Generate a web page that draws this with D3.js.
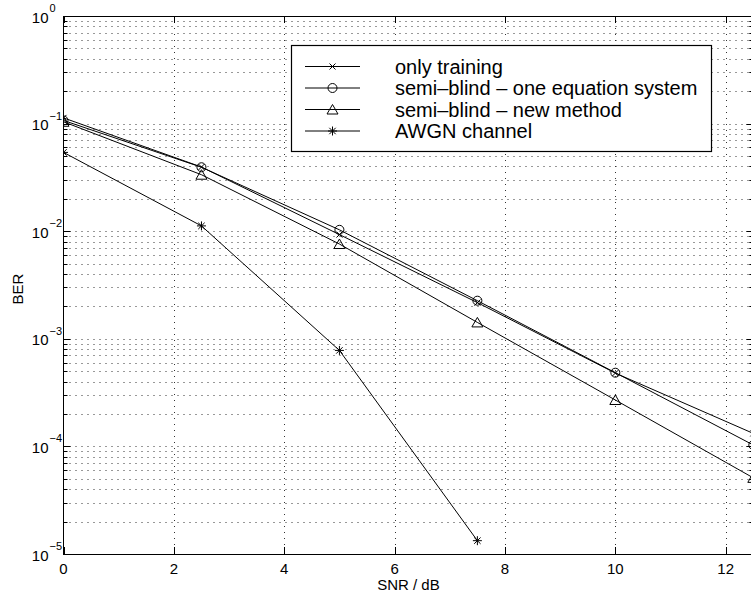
<!DOCTYPE html>
<html>
<head>
<meta charset="utf-8">
<script src="https://cdn.jsdelivr.net/npm/d3@7"></script>
<style>
    body { margin: 0; background: #fff; }
    svg { display: block; font-family: "Liberation Sans", Arial, Helvetica, sans-serif; }
</style>
</head>
<body>
<div id="chart"></div>
<script>

// values
var snr = [0, 2.5, 5, 7.5, 10, 12.5];
var snrAwgn = [0, 2.5, 5, 7.5];
var onlyTraining = [0.113, 0.0395, 0.0093, 0.00217, 0.00048, 0.000132];
var semiBlindOne = [0.107, 0.0393, 0.0103, 0.00226, 0.000484, 0.000103];
var semiBlindNew = [0.104, 0.0335, 0.0076, 0.00142, 0.00027, 0.000051];
var awgnChannel = [0.054, 0.0112, 0.00078, 0.0000133];

var xTicks = [0, 2, 4, 6, 8, 10, 12];
var yTickExps = [0, -1, -2, -3, -4, -5];

var series = [
    {name: 'only training', x: snr, y: onlyTraining, marker: 'cross'},
    {name: 'semi\u2013blind \u2013 one equation system', x: snr, y: semiBlindOne, marker: 'circle'},
    {name: 'semi\u2013blind \u2013 new method', x: snr, y: semiBlindNew, marker: 'triangle'},
    {name: 'AWGN channel', x: snrAwgn, y: awgnChannel, marker: 'star'}
];

var width = 751, height = 595;
// plot box (the right edge lies just past the window, as in the reference)
var boxLeft = 63.5, boxRight = 753.3, boxTop = 16, boxBottom = 554;

var svg = d3.select('#chart').append('svg').attr('width', width).attr('height', height);

var x = d3.scaleLinear().domain([0, 12.5]).range([boxLeft, boxRight]);
var y = d3.scaleLog().domain([1e-5, 1]).range([boxBottom, boxTop]);

svg.append('clipPath').attr('id', 'plotclip')
    .append('rect').attr('x', boxLeft).attr('y', boxTop).attr('width', boxRight - boxLeft).attr('height', boxBottom - boxTop);

// dotted grid
var grid = svg.append('g').attr('stroke', '#333').attr('stroke-width', 1).attr('stroke-dasharray', '1,5');
grid.selectAll('line.h').data(y.ticks().filter(function (t) { return t < 1 && t > 1e-5; }))
    .enter().append('line')
    .attr('x1', boxLeft).attr('x2', boxRight)
    .attr('y1', function (d) { return Math.round(y(d)) + 0.5; })
    .attr('y2', function (d) { return Math.round(y(d)) + 0.5; });
grid.selectAll('line.v').data(xTicks.filter(function (t) { return t > 0; }))
    .enter().append('line')
    .attr('y1', boxTop).attr('y2', boxBottom)
    .attr('x1', function (d) { return Math.round(x(d)) + 0.5; })
    .attr('x2', function (d) { return Math.round(x(d)) + 0.5; });

// axes box and ticks
var ax = svg.append('g').attr('stroke', '#000').attr('stroke-width', 1).attr('fill', 'none');
ax.append('rect').attr('x', boxLeft).attr('y', boxTop + 0.5).attr('width', boxRight - boxLeft).attr('height', boxBottom - boxTop);

xTicks.forEach(function (t) {
    var px = Math.round(x(t)) + 0.5;
    ax.append('line').attr('x1', px).attr('x2', px).attr('y1', boxBottom).attr('y2', boxBottom - 7);
    ax.append('line').attr('x1', px).attr('x2', px).attr('y1', boxTop).attr('y2', boxTop + 7);
});
y.ticks().forEach(function (t) {
    var major = Math.abs(Math.log10(t) - Math.round(Math.log10(t))) < 1e-9;
    var len = major ? 7 : 4;
    var py = Math.round(y(t)) + 0.5;
    ax.append('line').attr('x1', boxLeft).attr('x2', boxLeft + len).attr('y1', py).attr('y2', py);
    ax.append('line').attr('x1', boxRight).attr('x2', boxRight - len).attr('y1', py).attr('y2', py);
});

// tick labels
svg.append('g').selectAll('text').data(xTicks).enter().append('text')
    .attr('x', function (d) { return x(d); })
    .attr('y', 574)
    .attr('text-anchor', 'middle')
    .attr('font-size', 15)
    .text(function (d) { return d; });

var ylab = svg.append('g');
yTickExps.forEach(function (e) {
    var py = y(Math.pow(10, e));
    ylab.append('text').attr('x', 48.5).attr('y', py + 6.5).attr('text-anchor', 'end')
        .attr('font-size', 15).text('10');
    ylab.append('text').attr('x', 49.5).attr('y', py - 4)
        .attr('font-size', 11).text(e === 0 ? '0' : '\u2212' + (-e));
});

svg.append('text').attr('x', (boxLeft + boxRight) / 2).attr('y', 590)
    .attr('text-anchor', 'middle').attr('font-size', 15).text('SNR / dB');
svg.append('text').attr('transform', 'translate(23,' + ((boxTop + boxBottom) / 2 + 4) + ') rotate(-90)')
    .attr('text-anchor', 'middle').attr('font-size', 15).text('BER');

// markers
function drawMarker(g, type, cx, cy) {
    if (type == 'cross') {
        g.append('path').attr('d', 'M' + (cx - 3) + ',' + (cy - 3) + 'L' + (cx + 3) + ',' + (cy + 3) +
            'M' + (cx - 3) + ',' + (cy + 3) + 'L' + (cx + 3) + ',' + (cy - 3));
    } else if (type == 'circle') {
        g.append('circle').attr('cx', cx).attr('cy', cy).attr('r', 4.5);
    } else if (type == 'triangle') {
        g.append('path').attr('d', 'M' + cx + ',' + (cy - 5) + 'L' + (cx + 5.5) + ',' + (cy + 4.5) +
            'L' + (cx - 5.5) + ',' + (cy + 4.5) + 'Z');
    } else if (type == 'star') {
        g.append('path').attr('d', 'M' + (cx - 4.5) + ',' + cy + 'L' + (cx + 4.5) + ',' + cy +
            'M' + cx + ',' + (cy - 4.5) + 'L' + cx + ',' + (cy + 4.5) +
            'M' + (cx - 3.2) + ',' + (cy - 3.2) + 'L' + (cx + 3.2) + ',' + (cy + 3.2) +
            'M' + (cx - 3.2) + ',' + (cy + 3.2) + 'L' + (cx + 3.2) + ',' + (cy - 3.2));
    }
}

var plot = svg.append('g').attr('clip-path', 'url(#plotclip)')
    .attr('fill', 'none').attr('stroke', '#000').attr('stroke-width', 1);

var line = d3.line().x(function (d) { return x(d[0]); }).y(function (d) { return y(d[1]); });

series.forEach(function (s) {
    var pts = d3.zip(s.x, s.y);
    plot.append('path').attr('d', line(pts));
    pts.forEach(function (p) {
        drawMarker(plot, s.marker, x(p[0]), y(p[1]));
    });
});

// legend
var lg = svg.append('g');
lg.append('rect').attr('x', 291.5).attr('y', 45.5).attr('width', 420).attr('height', 106)
    .attr('fill', '#fff').attr('stroke', '#000').attr('stroke-width', 1.2);
var rowY = [66.5, 88, 109.5, 131];
series.forEach(function (s, i) {
    var g = lg.append('g').attr('fill', 'none').attr('stroke', '#000').attr('stroke-width', 1);
    g.append('line').attr('x1', 305).attr('x2', 360).attr('y1', rowY[i]).attr('y2', rowY[i]);
    drawMarker(g, s.marker, 332.5, rowY[i]);
    lg.append('text').attr('x', 395).attr('y', rowY[i] + 7)
        .attr('font-size', 20).text(s.name);
});

</script>
</body>
</html>
